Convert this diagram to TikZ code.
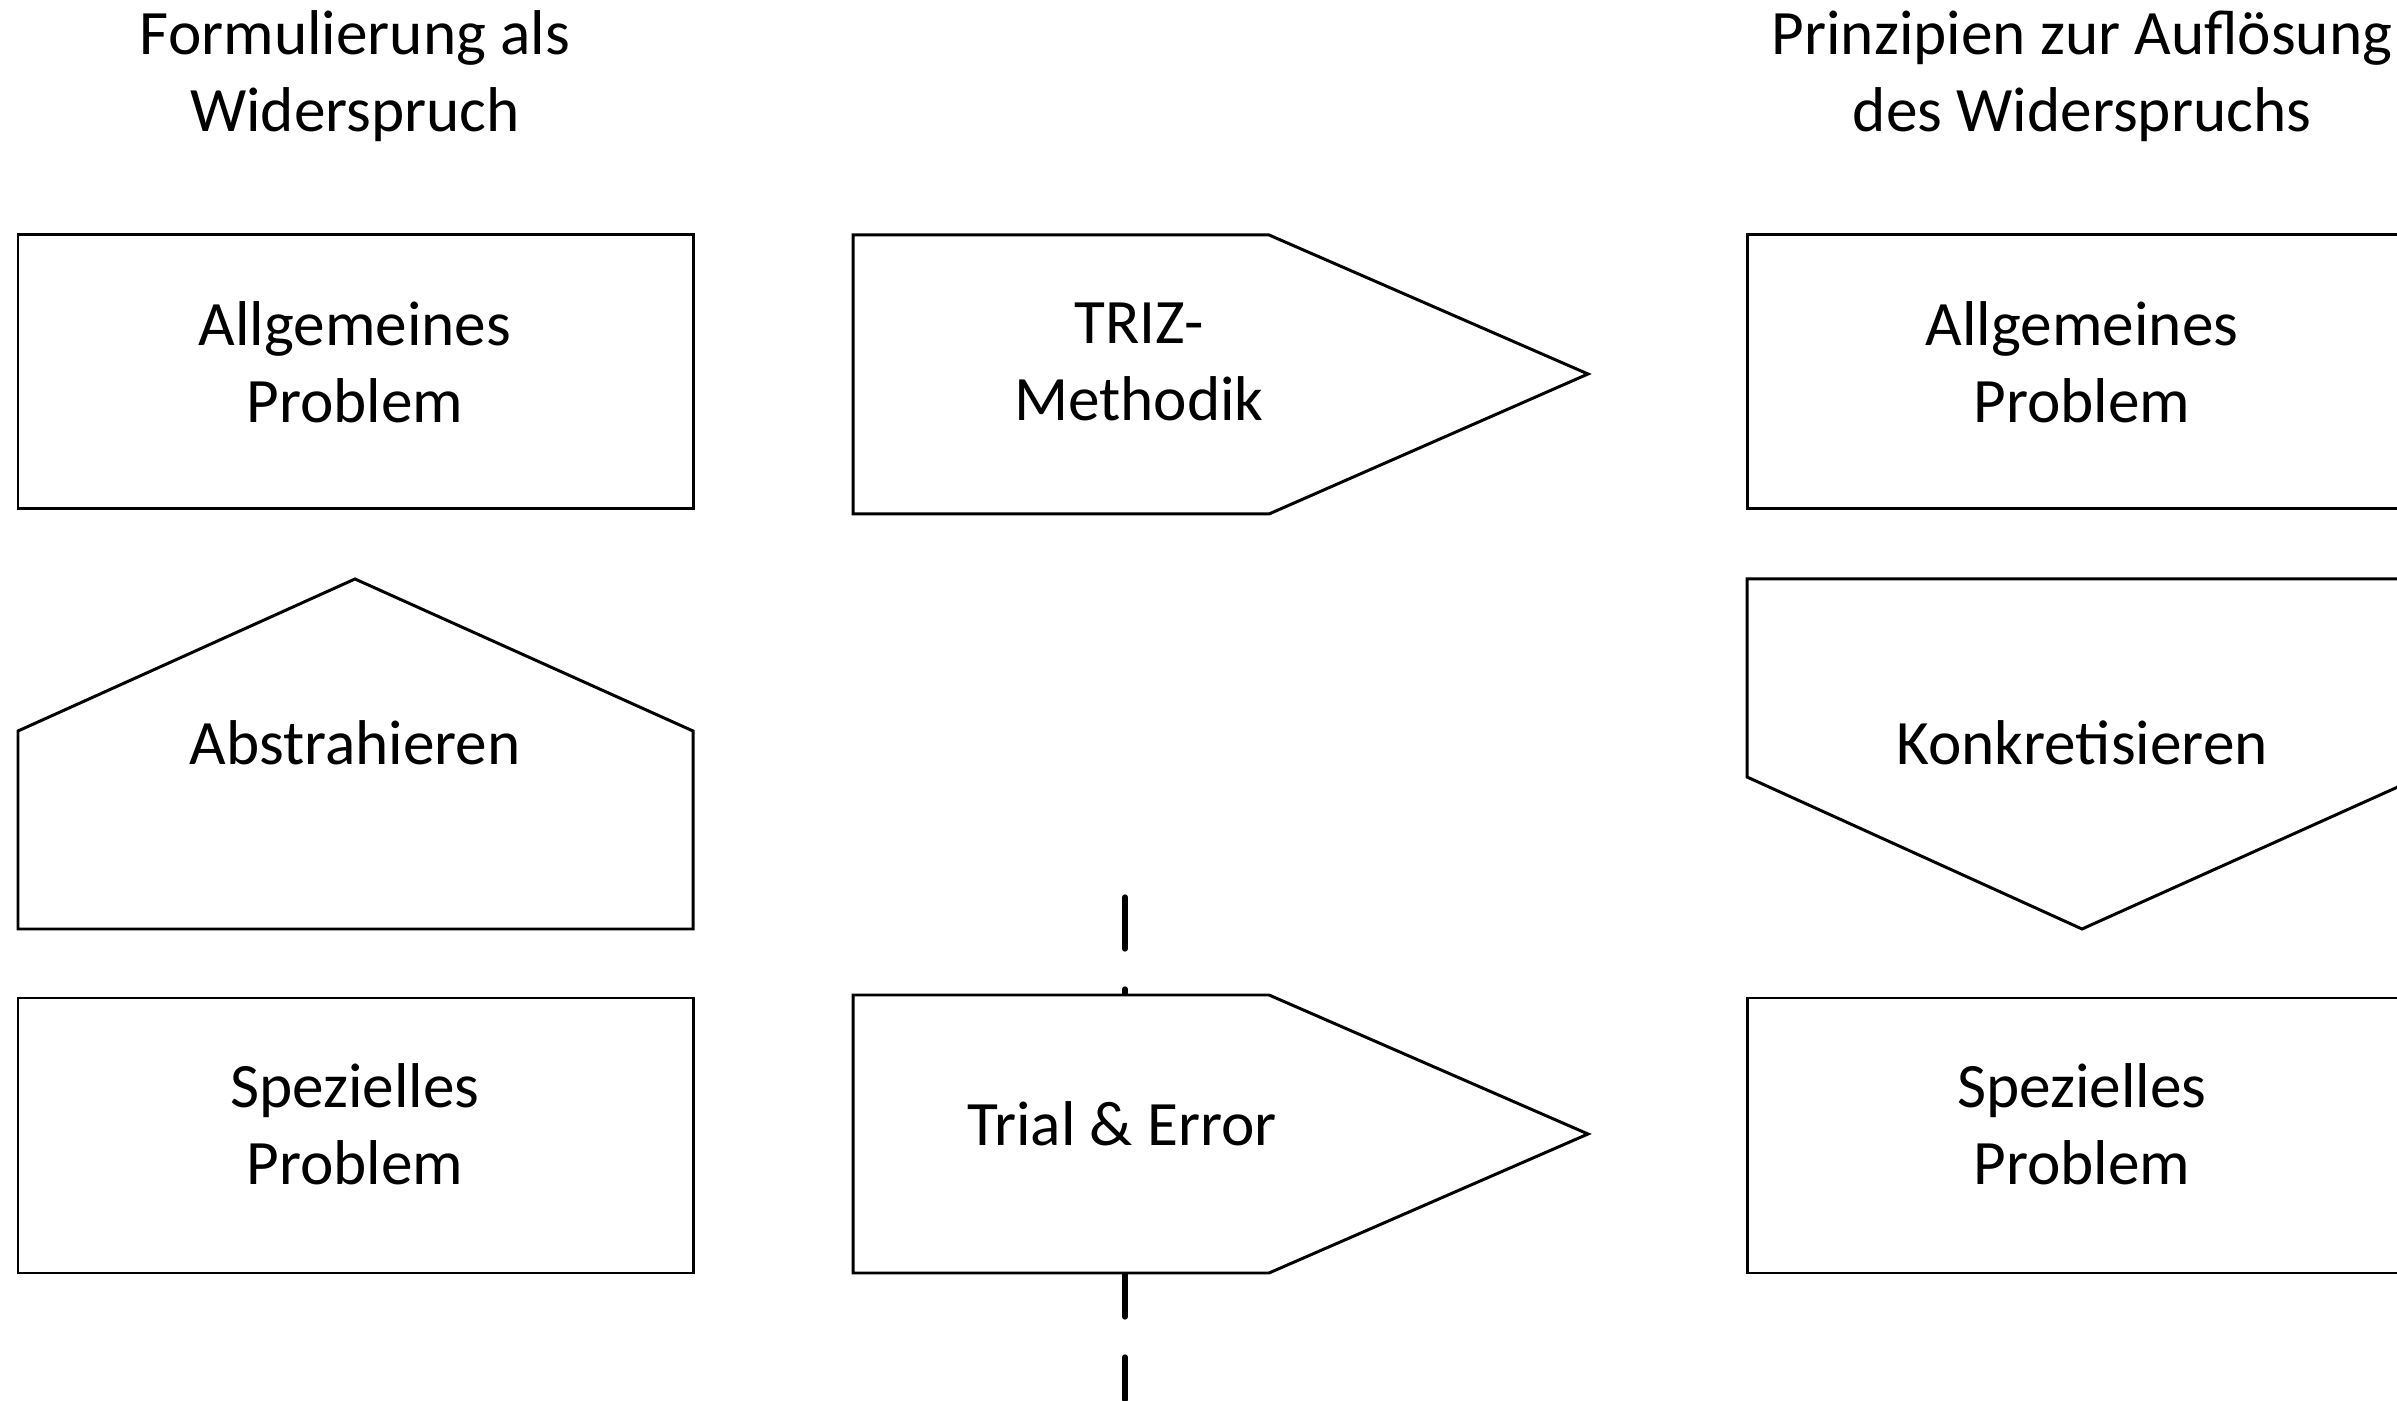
\documentclass[tikz,border=0pt]{standalone}
\usepackage{fontspec}
\setmainfont{Carlito}
\begin{document}
\begin{tikzpicture}[line width=0.85pt,
  lbl/.style={align=center, font=\fontsize{18}{22}\selectfont}]
\clip (0,0) rectangle (23.97,14);
\coordinate (dtop) at (11.25,5.03);
\coordinate (dbot) at (11.25,0);
\draw[line width=1.5pt, line cap=round, dash pattern=on 0.52cm off 0.40cm] (dtop) -- (dbot);
% linke Spalte
\draw (0.18,11.65) rectangle (6.93,8.91);
\draw (0.18,4.71) -- (0.18,6.69) -- (3.55,8.21) -- (6.93,6.69) -- (6.93,4.71) -- cycle;
\draw (0.18,4.02) rectangle (6.93,1.27);
% Mitte
\draw (8.53,11.65) -- (12.69,11.65) -- (15.88,10.26) -- (12.69,8.86) -- (8.53,8.86) -- cycle;
\filldraw[fill=white] (8.53,4.05) -- (12.69,4.05) -- (15.88,2.66) -- (12.69,1.27) -- (8.53,1.27) -- cycle;
% rechte Spalte
\draw (17.47,11.65) rectangle (24.2,8.91);
\draw (17.47,8.21) -- (24.2,8.21) -- (24.2,6.23) -- (20.82,4.71) -- (17.47,6.23) -- cycle;
\draw (17.47,4.02) rectangle (24.2,1.27);
% Texte
\node[lbl] (titleL) at (3.55,13.24) {Formulierung als\\Widerspruch};
\node[lbl] (titleR) at (20.82,13.24) {Prinzipien zur Auflösung\\des Widerspruchs};
\node[lbl] (allgL) at (3.55,10.38) {Allgemeines\\Problem};
\node[lbl] (abstr) at (3.55,6.57) {Abstrahieren};
\node[lbl] (spezL) at (3.55,2.76) {Spezielles\\Problem};
\node[lbl] (triz) at (11.39,10.38) {TRIZ-\\Methodik};
\node[lbl] (trial) at (11.22,2.76) {Trial \& Error};
\node[lbl] (allgR) at (20.82,10.38) {Allgemeines\\Problem};
\node[lbl] (konkr) at (20.82,6.57) {Konkretisieren};
\node[lbl] (spezR) at (20.82,2.76) {Spezielles\\Problem};
\end{tikzpicture}
\end{document}
